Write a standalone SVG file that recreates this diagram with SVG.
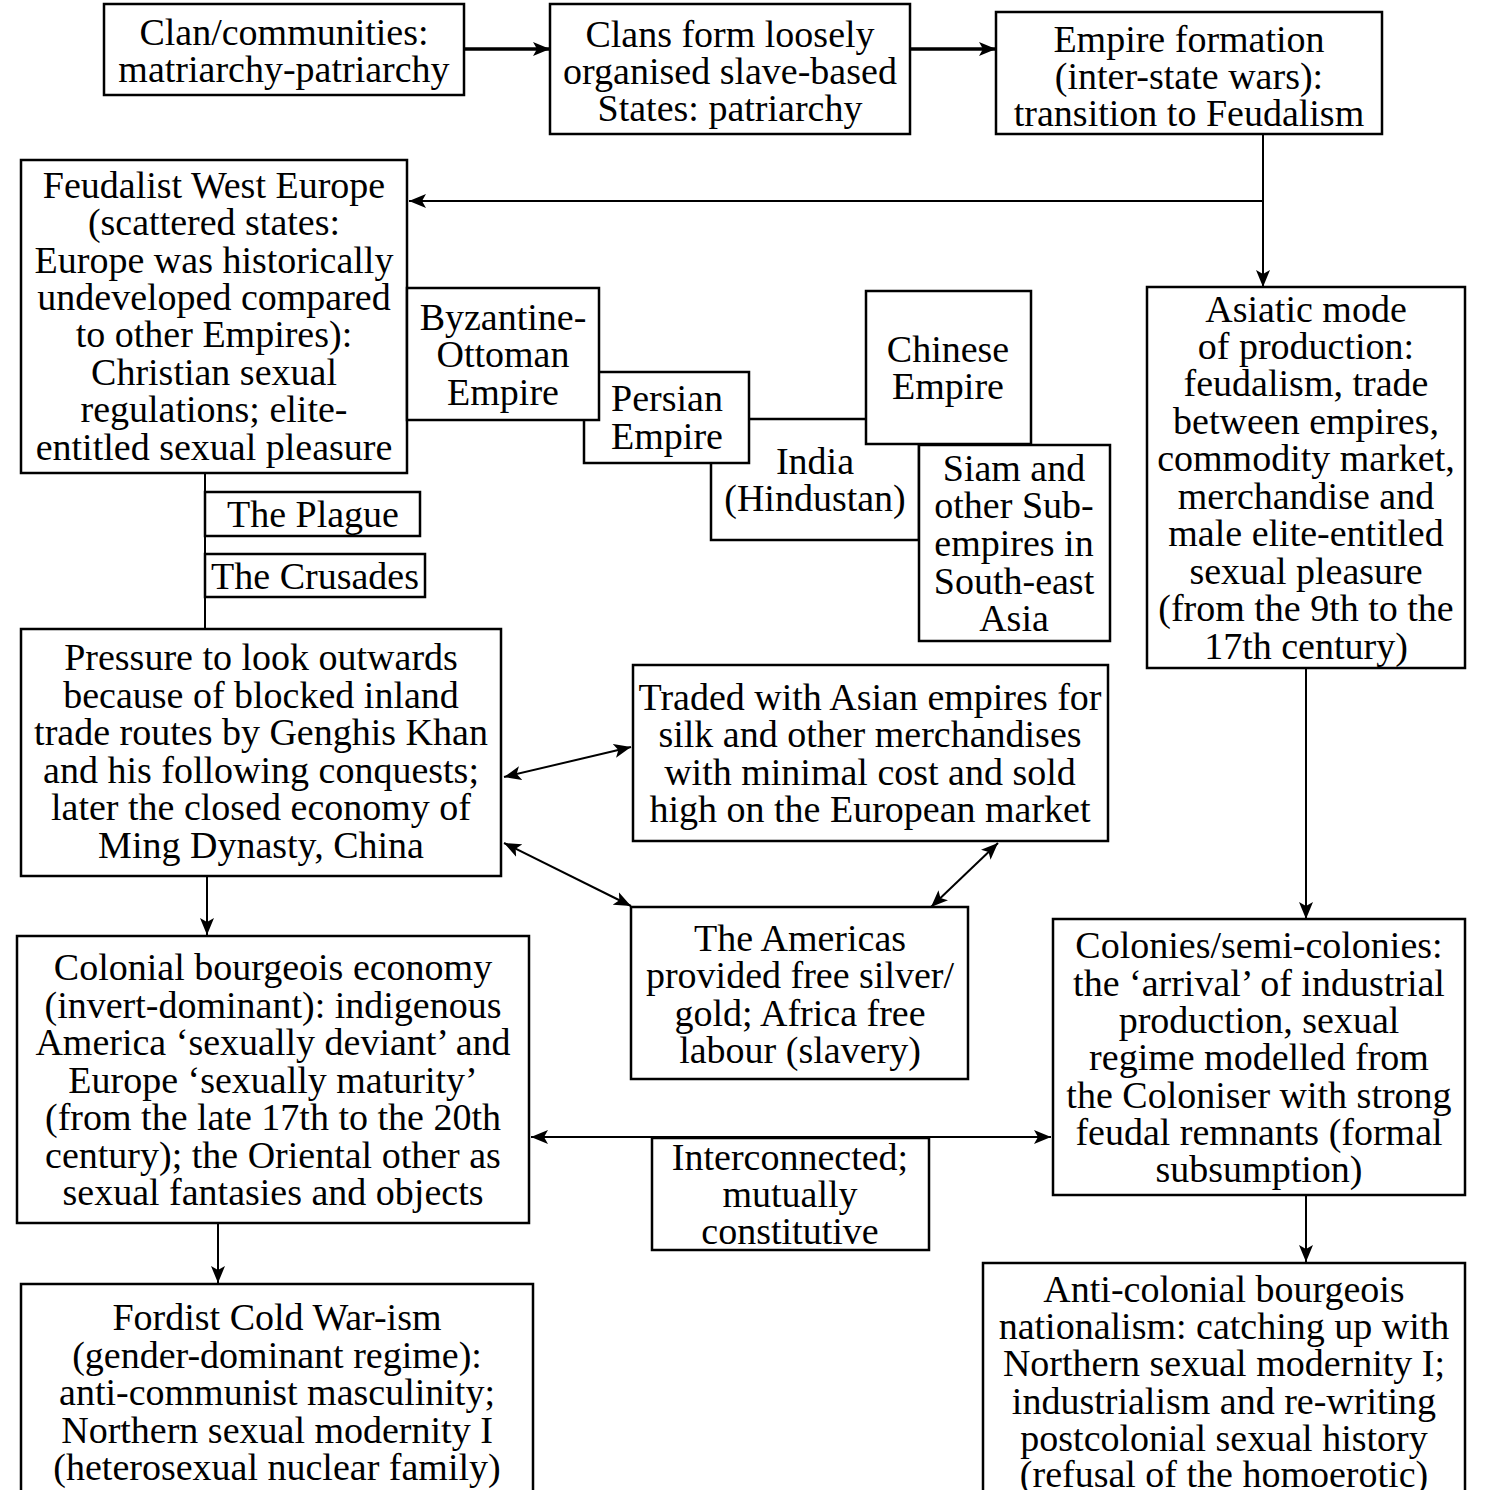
<svg xmlns="http://www.w3.org/2000/svg" width="1511" height="1490" viewBox="0 0 1511 1490">
<style>
rect.b{fill:#fff;stroke:#000;stroke-width:2.5}
text{font-family:"Liberation Serif","Times New Roman",serif;font-size:38px;fill:#000;text-anchor:middle}
.c{fill:none;stroke:#000;stroke-width:2}
.ct{fill:none;stroke:#000;stroke-width:3.5}
</style>
<defs>
<marker id="ah" markerUnits="userSpaceOnUse" markerWidth="18" markerHeight="14" viewBox="0 0 18 14" refX="17" refY="7" orient="auto-start-reverse">
<path d="M0,0 L17,7 L0,14 L4,7 z" fill="#000"/>
</marker>
</defs>
<rect width="1511" height="1490" fill="#fff"/>
<g id="connectors">
<path class="ct" d="M464,49 L550,49" marker-end="url(#ah)"/>
<path class="ct" d="M910,49 L996,49" marker-end="url(#ah)"/>
<path class="c" d="M1263,134 L1263,287" marker-end="url(#ah)"/>
<path class="c" d="M1263,201 L409,201" marker-end="url(#ah)"/>
<path class="c" d="M205,473 L205,629"/>
<path class="c" d="M207,877 L207,935" marker-end="url(#ah)"/>
<path class="c" d="M504,777 L631,747" marker-start="url(#ah)" marker-end="url(#ah)"/>
<path class="c" d="M504,843 L631,906" marker-start="url(#ah)" marker-end="url(#ah)"/>
<path class="c" d="M998,843 L931,907" marker-start="url(#ah)" marker-end="url(#ah)"/>
<path class="c" d="M1306,668 L1306,919" marker-end="url(#ah)"/>
<path class="c" d="M1306,1196 L1306,1262" marker-end="url(#ah)"/>
<path class="c" d="M531,1137 L1051,1137" marker-start="url(#ah)" marker-end="url(#ah)"/>
<path class="c" d="M218,1224 L218,1283" marker-end="url(#ah)"/>
</g>
<g id="clan">
<rect class="b" x="104" y="4" width="360" height="91"/>
<text><tspan x="284" y="45">Clan/communities:</tspan><tspan x="284" y="82">matriarchy-patriarchy</tspan></text>
</g>
<g id="clans-states">
<rect class="b" x="550" y="4" width="360" height="130"/>
<text><tspan x="730" y="47">Clans form loosely</tspan><tspan x="730" y="84">organised slave-based</tspan><tspan x="730" y="121">States: patriarchy</tspan></text>
</g>
<g id="empire-formation">
<rect class="b" x="996" y="12" width="386" height="122"/>
<text><tspan x="1189" y="52">Empire formation</tspan><tspan x="1189" y="89">(inter-state wars):</tspan><tspan x="1189" y="126">transition to Feudalism</tspan></text>
</g>
<g id="feudalist">
<rect class="b" x="21" y="160" width="386" height="313"/>
<text><tspan x="214" y="198">Feudalist West Europe</tspan><tspan x="214" y="235">(scattered states:</tspan><tspan x="214" y="273">Europe was historically</tspan><tspan x="214" y="310">undeveloped compared</tspan><tspan x="214" y="347">to other Empires):</tspan><tspan x="214" y="385">Christian sexual</tspan><tspan x="214" y="422">regulations; elite-</tspan><tspan x="214" y="460">entitled sexual pleasure</tspan></text>
</g>
<g id="india">
<rect class="b" x="711" y="419" width="208" height="121"/>
<text><tspan x="815" y="474">India</tspan><tspan x="815" y="511">(Hindustan)</tspan></text>
</g>
<g id="persian">
<rect class="b" x="584" y="372" width="165" height="91"/>
<text><tspan x="667" y="411">Persian</tspan><tspan x="667" y="449">Empire</tspan></text>
</g>
<g id="byzantine">
<rect class="b" x="407" y="288" width="192" height="132"/>
<text><tspan x="503" y="330">Byzantine-</tspan><tspan x="503" y="367">Ottoman</tspan><tspan x="503" y="405">Empire</tspan></text>
</g>
<g id="chinese">
<rect class="b" x="866" y="291" width="165" height="153"/>
<text><tspan x="948" y="362">Chinese</tspan><tspan x="948" y="399">Empire</tspan></text>
</g>
<g id="siam">
<rect class="b" x="919" y="445" width="191" height="196"/>
<text><tspan x="1014" y="481">Siam and</tspan><tspan x="1014" y="518">other Sub-</tspan><tspan x="1014" y="556">empires in</tspan><tspan x="1014" y="594">South-east</tspan><tspan x="1014" y="631">Asia</tspan></text>
</g>
<g id="asiatic">
<rect class="b" x="1147" y="287" width="318" height="381"/>
<text><tspan x="1306" y="322">Asiatic mode</tspan><tspan x="1306" y="359">of production:</tspan><tspan x="1306" y="396">feudalism, trade</tspan><tspan x="1306" y="434">between empires,</tspan><tspan x="1306" y="471">commodity market,</tspan><tspan x="1306" y="509">merchandise and</tspan><tspan x="1306" y="546">male elite-entitled</tspan><tspan x="1306" y="584">sexual pleasure</tspan><tspan x="1306" y="621">(from the 9th to the</tspan><tspan x="1306" y="659">17th century)</tspan></text>
</g>
<g id="plague">
<rect class="b" x="205" y="492" width="215" height="44"/>
<text x="313" y="527">The Plague</text>
</g>
<g id="crusades">
<rect class="b" x="205" y="554" width="220" height="43"/>
<text x="315" y="589">The Crusades</text>
</g>
<g id="pressure">
<rect class="b" x="21" y="629" width="480" height="247"/>
<text><tspan x="261" y="670">Pressure to look outwards</tspan><tspan x="261" y="708">because of blocked inland</tspan><tspan x="261" y="745">trade routes by Genghis Khan</tspan><tspan x="261" y="783">and his following conquests;</tspan><tspan x="261" y="820">later the closed economy of</tspan><tspan x="261" y="858">Ming Dynasty, China</tspan></text>
</g>
<g id="traded">
<rect class="b" x="633" y="665" width="475" height="176"/>
<text><tspan x="870" y="710">Traded with Asian empires for</tspan><tspan x="870" y="747">silk and other merchandises</tspan><tspan x="870" y="785">with minimal cost and sold</tspan><tspan x="870" y="822">high on the European market</tspan></text>
</g>
<g id="americas">
<rect class="b" x="631" y="907" width="337" height="172"/>
<text><tspan x="800" y="951">The Americas</tspan><tspan x="800" y="988">provided free silver/</tspan><tspan x="800" y="1026">gold; Africa free</tspan><tspan x="800" y="1063">labour (slavery)</tspan></text>
</g>
<g id="colonial">
<rect class="b" x="17" y="936" width="512" height="287"/>
<text><tspan x="273" y="980">Colonial bourgeois economy</tspan><tspan x="273" y="1018">(invert-dominant): indigenous</tspan><tspan x="273" y="1055">America ‘sexually deviant’ and</tspan><tspan x="273" y="1093">Europe ‘sexually maturity’</tspan><tspan x="273" y="1130">(from the late 17th to the 20th</tspan><tspan x="273" y="1168">century); the Oriental other as</tspan><tspan x="273" y="1205">sexual fantasies and objects</tspan></text>
</g>
<g id="colonies">
<rect class="b" x="1053" y="919" width="412" height="276"/>
<text><tspan x="1259" y="958">Colonies/semi-colonies:</tspan><tspan x="1259" y="996">the ‘arrival’ of industrial</tspan><tspan x="1259" y="1033">production, sexual</tspan><tspan x="1259" y="1070">regime modelled from</tspan><tspan x="1259" y="1108">the Coloniser with strong</tspan><tspan x="1259" y="1145">feudal remnants (formal</tspan><tspan x="1259" y="1182">subsumption)</tspan></text>
</g>
<g id="interconnected">
<rect class="b" x="652" y="1138" width="277" height="112"/>
<text><tspan x="790" y="1170">Interconnected;</tspan><tspan x="790" y="1207">mutually</tspan><tspan x="790" y="1244">constitutive</tspan></text>
</g>
<g id="fordist">
<rect class="b" x="21" y="1284" width="512" height="230"/>
<text><tspan x="277" y="1330">Fordist Cold War-ism</tspan><tspan x="277" y="1368">(gender-dominant regime):</tspan><tspan x="277" y="1405">anti-communist masculinity;</tspan><tspan x="277" y="1443">Northern sexual modernity I</tspan><tspan x="277" y="1480">(heterosexual nuclear family)</tspan></text>
</g>
<g id="anticolonial">
<rect class="b" x="983" y="1263" width="482" height="250"/>
<text><tspan x="1224" y="1302">Anti-colonial bourgeois</tspan><tspan x="1224" y="1339">nationalism: catching up with</tspan><tspan x="1224" y="1376">Northern sexual modernity I;</tspan><tspan x="1224" y="1414">industrialism and re-writing</tspan><tspan x="1224" y="1451">postcolonial sexual history</tspan><tspan x="1224" y="1487">(refusal of the homoerotic)</tspan></text>
</g>
</svg>
